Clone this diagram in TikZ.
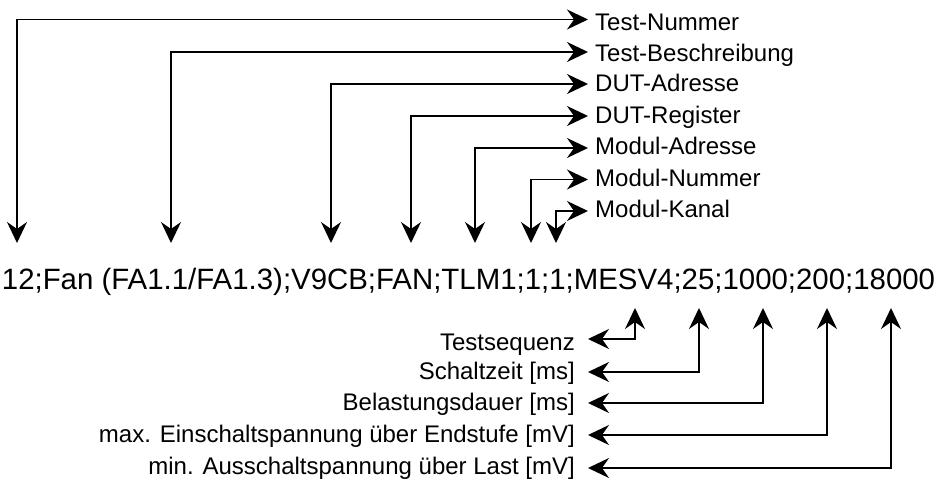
\documentclass[tikz,border=0pt]{standalone}
\usepackage{fontspec}
\setmainfont{Liberation Sans}
\usetikzlibrary{arrows.meta}
\begin{document}
\begin{tikzpicture}[x=1pt,y=-1pt,
  conn/.style={line width=1.7pt, {Stealth[length=21pt,width=20pt,inset=7pt]}-{Stealth[length=21pt,width=20pt,inset=7pt]}},
  toplab/.style={anchor=base west, inner sep=0pt, font=\fontsize{24}{28}\selectfont},
  botlab/.style={anchor=base east, inner sep=0pt, font=\fontsize{24}{28}\selectfont},
  rec/.style={anchor=base, inner sep=0pt, font=\fontsize{29.4}{34}\selectfont}]
\useasboundingbox (0,0) rectangle (938,481);

% record line
\node[rec] (record) at (468.5,290) {12;Fan (FA1.1/FA1.3);V9CB;FAN;TLM1;1;1;MESV4;25;1000;200;18000};

% top labels
\node[toplab] (l1) at (595,31) {Test-Nummer};
\node[toplab] (l2) at (595,62) {Test-Beschreibung};
\node[toplab] (l3) at (595,92) {DUT-Adresse};
\node[toplab] (l4) at (595,124) {DUT-Register};
\node[toplab] (l5) at (595,155) {Modul-Adresse};
\node[toplab] (l6) at (595,187) {Modul-Nummer};
\node[toplab] (l7) at (595,218) {Modul-Kanal};

% top connector ends
\coordinate (d1) at (17,243);  \coordinate (r1) at (588,19.5);
\coordinate (d2) at (171,243); \coordinate (r2) at (588,52);
\coordinate (d3) at (331,243); \coordinate (r3) at (588,84);
\coordinate (d4) at (411,243); \coordinate (r4) at (588,116);
\coordinate (d5) at (475,243); \coordinate (r5) at (588,148);
\coordinate (d6) at (531,243); \coordinate (r6) at (588,179.5);
\coordinate (d7) at (556,243); \coordinate (r7) at (588,211);

\foreach \i in {1,...,7} {\draw[conn] (d\i) |- (r\i);}

% bottom labels
\node[botlab] (b1) at (575,351) {Testsequenz};
\node[botlab] (b2) at (575,379) {Schaltzeit [ms]};
\node[botlab] (b3) at (575,410) {Belastungsdauer [ms]};
\node[botlab] (b4) at (575,442) {max. Einschaltspannung über Endstufe [mV]};
\node[botlab] (b5) at (575,474) {min. Ausschaltspannung über Last [mV]};

% bottom connector ends
\coordinate (u1) at (635,308); \coordinate (e1) at (588,339);
\coordinate (u2) at (699,308); \coordinate (e2) at (588,372);
\coordinate (u3) at (763,308); \coordinate (e3) at (588,403);
\coordinate (u4) at (827,308); \coordinate (e4) at (588,435);
\coordinate (u5) at (891,308); \coordinate (e5) at (588,468);

\foreach \i in {1,...,5} {\draw[conn] (u\i) |- (e\i);}
\end{tikzpicture}
\end{document}
